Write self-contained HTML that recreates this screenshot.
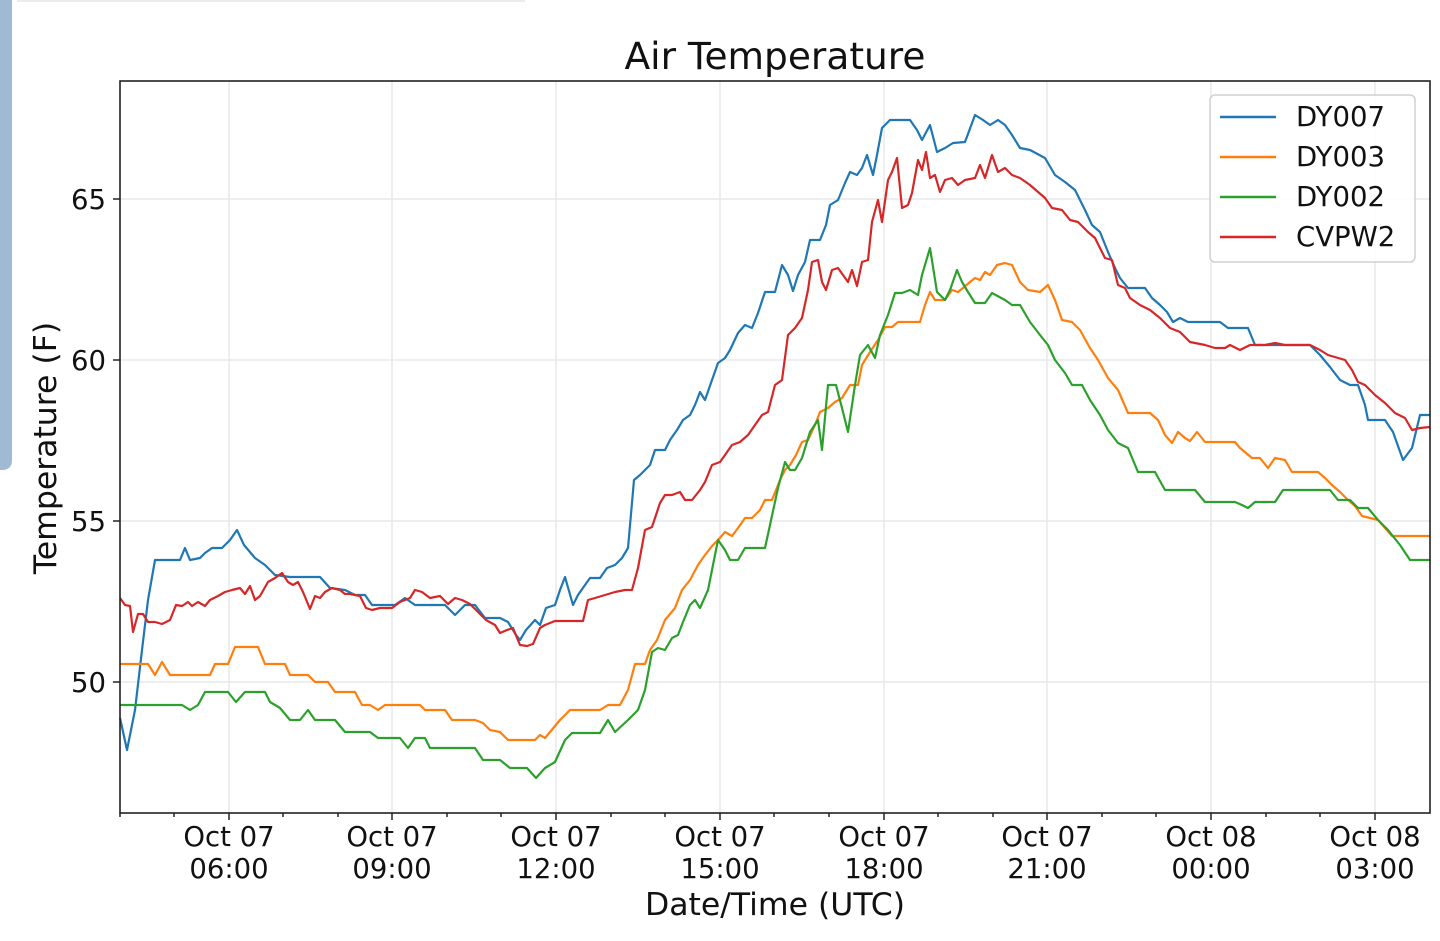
<!DOCTYPE html>
<html><head><meta charset="utf-8"><style>
html,body{margin:0;padding:0;background:#fff;}
svg{display:block;font-family:"DejaVu Sans","Liberation Sans",sans-serif;}
</style></head><body>
<svg width="1440" height="941" viewBox="0 0 1440 941" xmlns="http://www.w3.org/2000/svg">
<rect width="1440" height="941" fill="#fff"/>
<path d="M0 0 H12 V460 Q12 470 2 470 H0 Z" fill="#a0bad4"/>
<rect x="17" y="0" width="508" height="2" fill="#ececec"/>
<text x="775" y="69" font-size="37.5" text-anchor="middle" fill="#111">Air Temperature</text>
<g stroke="#e8e8e8" stroke-width="1.5">
<line x1="229" y1="81" x2="229" y2="813"/><line x1="392" y1="81" x2="392" y2="813"/><line x1="556" y1="81" x2="556" y2="813"/><line x1="720" y1="81" x2="720" y2="813"/><line x1="884" y1="81" x2="884" y2="813"/><line x1="1047" y1="81" x2="1047" y2="813"/><line x1="1211" y1="81" x2="1211" y2="813"/><line x1="1375" y1="81" x2="1375" y2="813"/>
<line x1="120" y1="199" x2="1430" y2="199"/><line x1="120" y1="360" x2="1430" y2="360"/><line x1="120" y1="521" x2="1430" y2="521"/><line x1="120" y1="682" x2="1430" y2="682"/>
</g>
<g fill="none" stroke-width="2.2" stroke-linejoin="round">
<polyline stroke="#1f77b4" points="120,718 127,750 135,710 142,650 148,600 155,560 180,560 185,548 190,560 200,558 205,553 212,548 222,548 230,540 237,530 244,545 255,558 265,565 275,575 290,577 320,577 330,588 345,590 355,595 365,595 372,605 395,605 405,598 415,605 445,605 455,615 465,605 475,605 485,618 500,618 508,622 516,635 520,640 526,630 535,620 540,625 546,608 555,605 560,590 565,577 573,605 578,595 585,585 590,578 600,578 607,568 615,565 622,558 628,548 634,480 640,475 650,465 655,450 665,450 670,440 677,430 683,420 690,415 695,405 700,392 705,400 712,380 718,363 725,358 730,350 738,333 745,325 752,328 758,313 765,292 775,292 782,265 788,275 793,291 798,275 805,262 810,240 820,240 826,225 830,205 838,200 845,183 850,172 857,175 862,168 867,155 873,175 877,155 882,128 890,120 910,120 917,130 922,140 930,125 937,152 945,148 953,143 965,142 975,115 983,120 990,125 998,120 1005,125 1012,135 1020,148 1030,150 1045,158 1055,175 1065,182 1075,190 1085,210 1092,225 1100,232 1108,252 1115,268 1120,278 1128,288 1145,288 1152,298 1160,305 1167,312 1173,322 1180,318 1188,322 1220,322 1228,328 1248,328 1255,345 1275,345 1285,345 1310,345 1320,355 1330,367 1340,380 1350,385 1358,385 1365,405 1368,420 1385,420 1393,432 1403,460 1412,448 1420,415 1430,415"/>
<polyline stroke="#ff7f0e" points="120,664 148,664 155,675 162,662 170,675 210,675 215,664 228,664 235,647 258,647 265,664 285,664 290,675 308,675 315,682 328,682 335,692 355,692 362,705 370,705 378,710 385,705 420,705 425,710 445,710 452,720 475,720 483,723 490,730 500,732 508,740 535,740 540,735 545,738 550,732 560,720 570,710 600,710 608,705 620,705 628,690 635,664 645,664 650,650 657,640 665,620 675,608 682,590 690,580 698,565 705,555 712,546 718,540 725,532 732,536 738,528 745,518 752,518 760,510 765,500 772,500 780,480 785,470 790,465 796,455 802,442 808,440 815,425 820,412 828,408 835,402 842,398 850,385 858,385 862,365 870,352 878,340 885,327 892,327 898,322 920,322 925,305 930,292 935,300 945,300 952,290 958,292 963,288 970,282 975,278 980,280 985,272 990,275 997,265 1005,263 1012,265 1020,282 1028,290 1040,292 1048,285 1055,300 1062,320 1072,322 1080,330 1090,348 1098,360 1108,378 1118,390 1128,413 1150,413 1158,420 1165,435 1172,443 1178,432 1185,438 1190,441 1197,432 1205,442 1235,442 1240,448 1252,458 1260,458 1268,468 1275,458 1285,460 1292,472 1318,472 1325,478 1332,485 1340,492 1348,500 1355,506 1362,516 1370,518 1378,520 1392,536 1430,536"/>
<polyline stroke="#2ca02c" points="120,705 182,705 190,710 198,705 205,692 228,692 236,702 245,692 265,692 270,702 280,708 290,720 300,720 308,710 315,720 335,720 345,732 370,732 378,738 400,738 408,748 415,738 425,738 430,748 475,748 483,760 500,760 510,768 527,768 536,778 545,768 555,762 565,740 572,733 600,733 608,720 615,732 628,720 638,710 645,690 652,652 658,648 665,650 672,638 678,635 683,622 690,605 695,600 700,608 708,590 718,540 725,550 730,560 738,560 745,548 765,548 770,525 778,488 785,462 790,470 795,470 802,458 810,432 818,420 822,450 828,385 836,385 842,408 848,432 855,385 860,355 868,345 875,358 880,335 888,315 895,293 902,293 910,290 918,295 922,275 930,248 937,292 945,300 950,290 957,270 962,282 968,292 975,303 985,303 992,293 1005,300 1012,305 1020,305 1030,322 1040,335 1048,345 1055,360 1065,373 1072,385 1082,385 1090,400 1100,415 1108,430 1118,443 1128,448 1138,472 1155,472 1165,490 1195,490 1205,502 1235,502 1242,505 1248,508 1255,502 1275,502 1283,490 1330,490 1338,500 1350,500 1358,508 1368,508 1378,520 1388,530 1400,545 1410,560 1430,560"/>
<polyline stroke="#d62728" points="120,598 125,605 130,606 133,632 138,614 143,614 148,622 155,622 162,624 170,620 176,605 182,606 188,602 192,606 198,602 205,606 210,600 218,596 225,592 232,590 240,588 245,594 250,586 255,600 260,596 268,582 275,578 282,573 288,582 293,585 298,582 303,592 310,609 315,596 320,598 325,592 332,588 340,590 345,594 350,594 360,596 366,608 372,610 380,608 392,608 400,602 410,598 415,590 422,592 430,598 440,596 448,604 455,598 462,600 470,604 478,612 486,620 495,625 500,633 507,630 513,628 520,645 527,646 533,644 540,628 545,625 555,621 583,621 588,600 595,598 605,595 615,592 625,590 632,590 638,568 645,530 652,527 660,503 665,495 672,495 680,492 685,500 692,500 700,490 705,482 712,465 720,462 725,455 732,445 740,442 748,435 755,425 762,415 768,412 775,385 782,380 788,335 795,328 802,318 808,290 812,262 818,260 822,282 826,290 832,270 838,268 843,275 848,282 852,270 857,286 862,262 868,260 872,222 878,200 882,222 888,180 892,172 897,158 902,208 908,205 912,193 918,160 922,170 926,152 930,178 935,175 940,192 945,180 952,178 958,185 965,180 975,178 980,165 985,178 992,155 998,172 1005,168 1012,175 1020,178 1030,185 1045,198 1052,208 1062,210 1070,220 1078,222 1088,232 1095,238 1105,258 1112,260 1118,285 1125,288 1130,298 1140,305 1150,310 1160,318 1170,328 1180,332 1190,342 1205,345 1215,348 1225,348 1230,345 1240,350 1250,345 1265,345 1275,343 1285,345 1310,345 1320,350 1328,355 1345,360 1352,370 1358,382 1365,385 1375,395 1385,403 1395,413 1405,418 1412,430 1420,428 1430,427"/>
</g>
<rect x="120" y="81" width="1310" height="732" fill="none" stroke="#222" stroke-width="1.6"/>
<g stroke="#222" stroke-width="1.5">
<line x1="229" y1="813" x2="229" y2="820"/><line x1="392" y1="813" x2="392" y2="820"/><line x1="556" y1="813" x2="556" y2="820"/><line x1="720" y1="813" x2="720" y2="820"/><line x1="884" y1="813" x2="884" y2="820"/><line x1="1047" y1="813" x2="1047" y2="820"/><line x1="1211" y1="813" x2="1211" y2="820"/><line x1="1375" y1="813" x2="1375" y2="820"/>
<line x1="120" y1="813" x2="120" y2="817"/><line x1="174" y1="813" x2="174" y2="817"/><line x1="283" y1="813" x2="283" y2="817"/><line x1="338" y1="813" x2="338" y2="817"/><line x1="447" y1="813" x2="447" y2="817"/><line x1="501" y1="813" x2="501" y2="817"/><line x1="611" y1="813" x2="611" y2="817"/><line x1="665" y1="813" x2="665" y2="817"/><line x1="774" y1="813" x2="774" y2="817"/><line x1="829" y1="813" x2="829" y2="817"/><line x1="938" y1="813" x2="938" y2="817"/><line x1="993" y1="813" x2="993" y2="817"/><line x1="1102" y1="813" x2="1102" y2="817"/><line x1="1156" y1="813" x2="1156" y2="817"/><line x1="1266" y1="813" x2="1266" y2="817"/><line x1="1320" y1="813" x2="1320" y2="817"/>
<line x1="113" y1="199" x2="120" y2="199"/><line x1="113" y1="360" x2="120" y2="360"/><line x1="113" y1="521" x2="120" y2="521"/><line x1="113" y1="682" x2="120" y2="682"/>
</g>
<g font-size="27.5" fill="#111" text-anchor="end">
<text x="106" y="209">65</text><text x="106" y="370">60</text><text x="106" y="531">55</text><text x="106" y="692">50</text>
</g>
<g font-size="27.5" fill="#111" text-anchor="middle">
<text x="229" y="846">Oct 07</text><text x="229" y="878">06:00</text>
<text x="392" y="846">Oct 07</text><text x="392" y="878">09:00</text>
<text x="556" y="846">Oct 07</text><text x="556" y="878">12:00</text>
<text x="720" y="846">Oct 07</text><text x="720" y="878">15:00</text>
<text x="884" y="846">Oct 07</text><text x="884" y="878">18:00</text>
<text x="1047" y="846">Oct 07</text><text x="1047" y="878">21:00</text>
<text x="1211" y="846">Oct 08</text><text x="1211" y="878">00:00</text>
<text x="1375" y="846">Oct 08</text><text x="1375" y="878">03:00</text>
<text x="775" y="915" font-size="31.5">Date/Time (UTC)</text>
</g>
<text transform="translate(56,448) rotate(-90)" font-size="31.5" text-anchor="middle" fill="#111">Temperature (F)</text>
<rect x="1210" y="95" width="205" height="167" rx="5" fill="#fff" fill-opacity="0.85" stroke="#d0d0d0" stroke-width="1.5"/>
<g stroke-width="2.5">
<line x1="1220" y1="117" x2="1276" y2="117" stroke="#1f77b4"/>
<line x1="1220" y1="157" x2="1276" y2="157" stroke="#ff7f0e"/>
<line x1="1220" y1="197" x2="1276" y2="197" stroke="#2ca02c"/>
<line x1="1220" y1="237" x2="1276" y2="237" stroke="#d62728"/>
</g>
<g font-size="27.5" fill="#111">
<text x="1296" y="126">DY007</text><text x="1296" y="166">DY003</text><text x="1296" y="206">DY002</text><text x="1296" y="246">CVPW2</text>
</g>
</svg>
</body></html>
